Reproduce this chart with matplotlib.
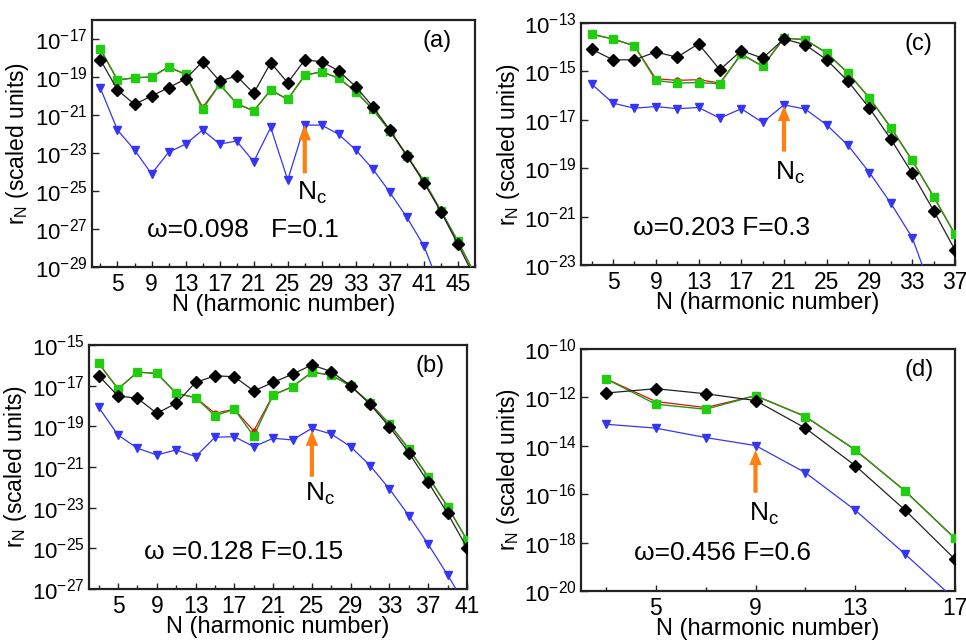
import numpy as np
import matplotlib
matplotlib.use('Agg')
import matplotlib.pyplot as plt
from matplotlib.ticker import MultipleLocator, NullLocator, LogFormatterSciNotation

plt.rcParams['font.family'] = ['Liberation Sans', 'DejaVu Sans']
plt.rcParams['mathtext.fontset'] = 'custom'
plt.rcParams['mathtext.rm'] = 'Liberation Sans'
plt.rcParams['mathtext.it'] = 'Liberation Sans:italic'

# %% Dados (log10 de r_N) -------------------------------------------

# (a) omega=0.098, F=0.1
N_a = np.arange(3, 48, 2)
preto_a = [-18.1, -19.68, -20.44, -20.0, -19.56, -19.1, -18.19, -19.21, -18.95, -19.86, -18.25,
           -19.3, -18.1, -18.19, -18.68, -19.51, -20.56, -21.79, -23.14, -24.56, -26.09, -27.81, -29.6]
verde_a = [-17.53, -19.16, -19.04, -19.0, -18.47, -18.86, -20.7, -19.39, -20.39, -20.79, -19.68,
           -20.18, -18.91, -18.72, -19.07, -19.77, -20.7, -21.84, -23.14, -24.47, -26.04, -27.65, -29.4]
verm_a = [-17.53, -19.16, -19.04, -19.0, -18.47, -18.86, -20.6, -19.39, -20.39, -20.79, -19.68,
          -20.18, -18.91, -18.72, -19.07, -19.77, -20.7, -21.84, -23.14, -24.47, -26.04, -27.65, -29.4]
N_a_azul = np.arange(3, 44, 2)
azul_a = [-19.6, -21.79, -22.84, -24.1, -22.96, -22.53, -21.79, -22.53, -22.37, -23.46, -21.65,
          -24.42, -21.53, -21.53, -22.02, -22.84, -23.84, -25.07, -26.39, -27.89, -30.2]

# (c) omega=0.203, F=0.3
N_c = np.arange(3, 38, 2)
preto_c = [-14.08, -14.52, -14.52, -14.2, -14.41, -13.86, -14.93, -14.14, -14.45, -13.66, -13.9,
           -14.52, -15.41, -16.52, -17.8, -19.21, -20.75, -22.38]
verde_c = [-13.46, -13.66, -13.94, -15.37, -15.48, -15.46, -15.51, -14.28, -14.79, -13.62, -13.69,
           -14.24, -15.07, -16.1, -17.32, -18.68, -20.17, -21.73]
verm_c = [-13.46, -13.66, -13.94, -15.3, -15.37, -15.34, -15.48, -14.28, -14.79, -13.62, -13.69,
          -14.24, -15.07, -16.1, -17.32, -18.68, -20.17, -21.73]
N_c_azul = np.arange(3, 36, 2)
azul_c = [-15.52, -16.31, -16.52, -16.45, -16.54, -16.49, -16.93, -16.54, -17.11, -16.38, -16.56,
          -17.21, -18.06, -19.18, -20.45, -21.87, -24.3]

# (b) omega=0.128, F=0.15
N_b = np.arange(3, 42, 2)
preto_b = [-16.51, -17.51, -17.62, -18.36, -17.87, -16.84, -16.52, -16.56, -17.26, -16.84, -16.44,
           -15.98, -16.31, -17.0, -17.92, -19.02, -20.3, -21.75, -23.28, -24.97]
verde_b = [-15.9, -17.16, -16.34, -16.39, -17.38, -17.59, -18.48, -18.16, -19.48, -17.46, -17.05,
           -16.34, -16.48, -17.02, -17.87, -18.89, -20.11, -21.48, -22.95, -24.59]
verm_b = [-15.9, -17.16, -16.34, -16.39, -17.38, -17.59, -18.36, -18.16, -19.23, -17.46, -17.05,
          -16.34, -16.48, -17.02, -17.87, -18.89, -20.11, -21.48, -22.95, -24.59]
azul_b = [-18.07, -19.43, -20.08, -20.41, -20.16, -20.49, -19.54, -19.51, -20.0, -19.59, -19.67,
          -19.1, -19.38, -20.0, -20.93, -22.08, -23.39, -24.8, -26.31, -27.9]

# (d) omega=0.456, F=0.6
N_d = np.arange(3, 18, 2)
preto_d = [-11.82, -11.64, -11.85, -12.13, -13.27, -14.82, -16.66, -18.69]
verde_d = [-11.23, -12.28, -12.49, -11.93, -12.79, -14.17, -15.87, -17.83]
verm_d = [-11.23, -12.17, -12.42, -11.93, -12.79, -14.17, -15.87, -17.83]
azul_d = [-13.11, -13.27, -13.66, -13.99, -15.11, -16.66, -18.48, -20.35]

# %% Configuração dos painéis ---------------------------------------

paineis = [
    dict(pos=[0.0952, 0.5828, 0.3965, 0.3859], rotulo='(a)', xlim=(2, 47), ylim=(-29, -16),
         xt=4, N=N_a, preto=preto_a, verde=verde_a, verm=verm_a, Nazul=N_a_azul, azul=azul_a,
         txt='\u03c9=0.098   F=0.1', txy=(19.7, -27.05), Nc=27, seta=(-24.07, -21.53), nct=(26.1, -25.47)),
    dict(pos=[0.6014, 0.5859, 0.3872, 0.3781], rotulo='(c)', xlim=(2, 37), ylim=(-23, -13),
         xt=4, N=N_c, preto=preto_c, verde=verde_c, verm=verm_c, Nazul=N_c_azul, azul=azul_c,
         txt='\u03c9=0.203 F=0.3', txy=(15.2, -21.48), Nc=21, seta=(-18.31, -16.42), nct=(20.17, -19.48)),
    dict(pos=[0.0921, 0.0797, 0.3913, 0.3813], rotulo='(b)', xlim=(2, 41), ylim=(-27, -15),
         xt=4, N=N_b, preto=preto_b, verde=verde_b, verm=verm_b, Nazul=N_b, azul=azul_b,
         txt='\u03c9 =0.128 F=0.15', txy=(17.9, -25.16), Nc=25, seta=(-21.48, -19.21), nct=(24.29, -22.67)),
    dict(pos=[0.6014, 0.0766, 0.3872, 0.3781], rotulo='(d)', xlim=(2, 17), ylim=(-20, -10),
         xt=4, N=N_d, preto=preto_d, verde=verde_d, verm=verm_d, Nazul=N_d, azul=azul_d,
         txt='\u03c9=0.456 F=0.6', txy=(7.67, -18.45), Nc=9, seta=(-15.94, -14.17), nct=(8.73, -17.11)),
]

# %% Plots ----------------------------------------------------------

fig = plt.figure(figsize=(9.66, 6.4), dpi=100)

for p in paineis:
    ax = fig.add_axes(p['pos'])
    ax.set_yscale('log')

    ax.plot(p['Nazul'], 10.0**np.array(p['azul']), '-v', color='#3535f5', lw=0.9,
            ms=6, mec='#3535f5', clip_on=True, zorder=3)
    ax.plot(p['N'], 10.0**np.array(p['verm']), '-o', color='#e01010', lw=0.9, ms=3.5, zorder=3)
    ax.plot(p['N'], 10.0**np.array(p['verde']), '-s', color='#1f9a10', lw=1.0,
            ms=5.5, mfc='#22cc11', mec='#22cc11', zorder=4)
    ax.plot(p['N'], 10.0**np.array(p['preto']), '-D', color='#222222', lw=0.9,
            ms=6.5, mfc='black', mec='black', zorder=5)

    ax.set_xlim(*p['xlim'])
    ax.set_ylim(10.0**p['ylim'][0], 10.0**p['ylim'][1])

    ax.xaxis.set_major_locator(MultipleLocator(p['xt'], offset=1))
    ax.xaxis.set_minor_locator(MultipleLocator(2, offset=1))
    yt = [10.0**e for e in range(p['ylim'][0], p['ylim'][1] + 1, 2)]
    ax.set_yticks(yt)
    ax.yaxis.set_major_formatter(LogFormatterSciNotation())
    ax.yaxis.set_minor_locator(NullLocator())

    ax.tick_params(axis='both', which='both', direction='in', color='#222222')
    ax.tick_params(axis='x', which='major', length=4.5, width=1, pad=4, labelsize=16.5)
    ax.tick_params(axis='x', which='minor', length=3, width=1)
    ax.tick_params(axis='y', which='major', length=5, width=1, pad=3, labelsize=16)
    for s in ax.spines.values():
        s.set_linewidth(1.6)
        s.set_color('#222222')

    ax.set_xlabel('N (harmonic number)', fontsize=17, va='top')
    ax.xaxis.set_label_coords(0.5, -0.11)
    ax.set_ylabel(r'$\mathregular{r_N}$ (scaled units)', fontsize=16.5)
    ax.yaxis.set_label_coords(-0.158, 0.5)

    ax.text(*p['txy'][:1], 10.0**p['txy'][1], p['txt'], fontsize=19, ha='center', va='center')
    ax.text(0.864, 0.915, p['rotulo'], transform=ax.transAxes, fontsize=17, ha='left', va='center')

    # seta laranja indicando N_c
    ax.annotate('', xy=(p['Nc'], 10.0**p['seta'][1]), xytext=(p['Nc'], 10.0**p['seta'][0]),
                arrowprops=dict(facecolor='#ff8010', edgecolor='none', width=3,
                                headwidth=9, headlength=11, shrink=0), zorder=6)
    ax.text(p['nct'][0], 10.0**p['nct'][1], r'$\mathregular{N_c}$', fontsize=19,
            ha='left', va='baseline')

fig.savefig('out.png', dpi=100)
